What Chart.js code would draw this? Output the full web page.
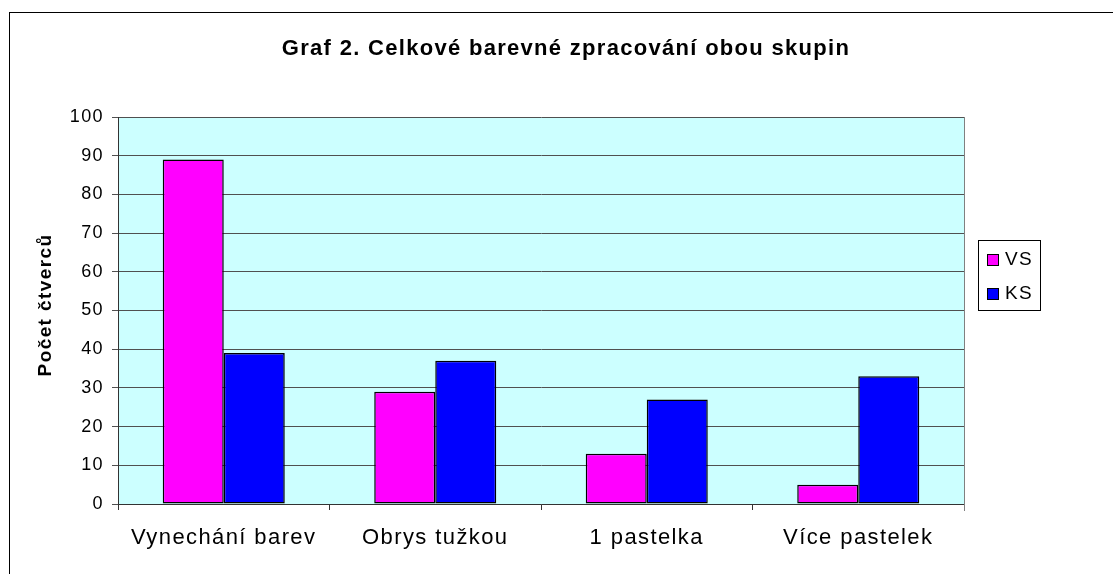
<!DOCTYPE html>
<html>
<head>
<meta charset="utf-8">
<script src="https://cdn.jsdelivr.net/npm/chart.js@4/dist/chart.umd.min.js"></script>
<style>
  html, body { margin: 0; padding: 0; background: #fff; }
  #wrap { width: 1113px; height: 574px; position: relative; }
</style>
</head>
<body>
<div id="wrap"><canvas id="theGraph"></canvas></div>
<script>
var categories = ["Vynechání barev", "Obrys tužkou", "1 pastelka", "Více pastelek"];
var vsValues = [89, 29, 13, 5];
var ksValues = [39, 37, 27, 33];
var yTicks = [0, 10, 20, 30, 40, 50, 60, 70, 80, 90, 100];
var seriesNames = ["VS", "KS"];
var seriesColors = ["#FF00FF", "#0000FF"];

var FONT = "'Liberation Sans', Arial, sans-serif";

// frame, plot background, title, axis title and legend
var decorPlugin = {
    id: "decor",
    beforeDraw: function(chart) {
        var ctx = chart.ctx;
        var a = chart.chartArea;
        ctx.save();
        ctx.fillStyle = "#fff";
        ctx.fillRect(0, 0, chart.width, chart.height);
        ctx.strokeStyle = "#000";
        ctx.lineWidth = 1;
        ctx.strokeRect(9.5, 12.5, chart.width + 20, chart.height + 20);
        ctx.fillStyle = "#CCFFFF";
        ctx.fillRect(a.left, a.top, a.right - a.left, a.bottom - a.top);
        ctx.restore();
        // wider text like the original renderer (kept for tick labels)
        ctx.letterSpacing = "1.4px";
    },
    afterDraw: function(chart) {
        var ctx = chart.ctx;
        var a = chart.chartArea;
        ctx.save();
        ctx.strokeStyle = "#808080";
        ctx.lineWidth = 1;
        ctx.beginPath();
        ctx.moveTo(Math.round(a.right) + 0.5, a.top);
        ctx.lineTo(Math.round(a.right) + 0.5, a.bottom + 7);
        ctx.stroke();

        ctx.fillStyle = "#000";
        ctx.letterSpacing = "1.3px";
        ctx.font = "bold 22px " + FONT;
        ctx.textAlign = "center";
        ctx.textBaseline = "alphabetic";
        ctx.fillText("Graf 2. Celkové barevné zpracování obou skupin", 566, 55);

        // y axis title
        ctx.save();
        ctx.translate(51, 305);
        ctx.rotate(-Math.PI / 2);
        ctx.letterSpacing = "1.4px";
        ctx.font = "bold 19px " + FONT;
        ctx.fillText("Počet čtverců", 0, 0);
        ctx.restore();

        // legend
        var lx = 978, ly = 240, lw = 62, lh = 70;
        ctx.fillStyle = "#fff";
        ctx.fillRect(lx, ly, lw, lh);
        ctx.strokeStyle = "#000";
        ctx.strokeRect(lx + 0.5, ly + 0.5, lw, lh);
        ctx.letterSpacing = "1.4px";
        ctx.font = "19px " + FONT;
        ctx.textAlign = "left";
        chart.data.datasets.forEach(function(ds, i) {
            var top = 254 + i * 34;
            ctx.fillStyle = ds.backgroundColor;
            ctx.fillRect(987, top, 12, 12);
            ctx.strokeStyle = "#000";
            ctx.strokeRect(987.5, top + 0.5, 11, 11);
            ctx.fillStyle = "#000";
            ctx.fillText(ds.label, 1005, top + 11);
        });
        ctx.restore();
    }
};

var ctx = document.getElementById("theGraph").getContext("2d");
var theGraph = new Chart(ctx, {
    type: "bar",
    data: {
        labels: categories,
        datasets: [{
            label: seriesNames[0],
            data: vsValues,
            backgroundColor: seriesColors[0],
            borderColor: "#000",
            borderWidth: 1.5,
            borderSkipped: false
        }, {
            label: seriesNames[1],
            data: ksValues,
            backgroundColor: seriesColors[1],
            borderColor: "#000",
            borderWidth: 1.5,
            borderSkipped: false
        }]
    },
    options: {
        responsive: true,
        maintainAspectRatio: false,
        animation: false,
        layout: {
            padding: { left: 30, top: 117, right: 149, bottom: 0 }
        },
        plugins: {
            legend: { display: false },
            title: { display: false },
            tooltip: { enabled: false }
        },
        datasets: {
            bar: { categoryPercentage: 0.577, barPercentage: 1 }
        },
        scales: {
            x: {
                grid: {
                    offset: true,
                    drawOnChartArea: false,
                    drawTicks: true,
                    tickLength: 6,
                    color: "#333"
                },
                border: { color: "#333", width: 1 },
                ticks: {
                    color: "#000",
                    font: { family: FONT, size: 22 },
                    padding: 15,
                    maxRotation: 0
                },
                afterFit: function(scale) { scale.height = 70; }
            },
            y: {
                min: 0,
                max: 100,
                afterBuildTicks: function(scale) {
                    scale.ticks = yTicks.map(function(v) { return { value: v }; });
                },
                grid: {
                    color: "#505050",
                    tickLength: 6,
                    drawTicks: true
                },
                border: { color: "#333", width: 1 },
                ticks: {
                    color: "#000",
                    font: { family: FONT, size: 18 },
                    padding: 8
                },
                afterFit: function(scale) { scale.width = 88; }
            }
        }
    },
    plugins: [decorPlugin]
});
</script>
</body>
</html>
